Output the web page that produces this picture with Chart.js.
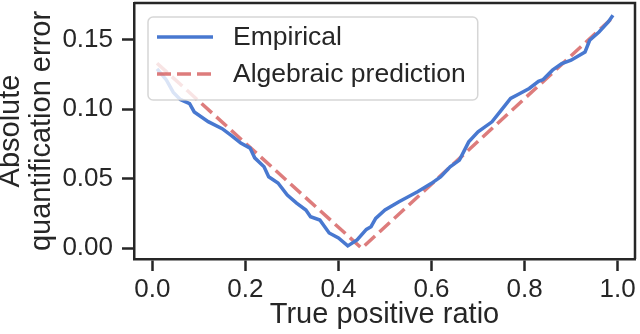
<!DOCTYPE html>
<html>
<head>
<meta charset="utf-8">
<script src="https://cdn.jsdelivr.net/npm/chart.js@4/dist/chart.umd.min.js"></script>
<style>
  html, body { margin: 0; padding: 0; background: #fff; }
  #wrap { width: 640px; height: 334px; }
</style>
</head>
<body>
<div id="wrap"><canvas id="chart"></canvas></div>
<script>
const EmpiricalX = [0.01, 0.03, 0.045, 0.06, 0.08, 0.09, 0.12, 0.15, 0.17, 0.19, 0.21, 0.22, 0.24, 0.25, 0.27, 0.29, 0.31, 0.33, 0.34, 0.36, 0.38, 0.40, 0.42, 0.44, 0.46, 0.47, 0.48, 0.50, 0.53, 0.55, 0.57, 0.60, 0.62, 0.64, 0.66, 0.68, 0.70, 0.73, 0.75, 0.77, 0.79, 0.81, 0.83, 0.84, 0.86, 0.88, 0.90, 0.93, 0.94, 0.96, 0.98, 0.99];
const EmpiricalY = [0.129, 0.121, 0.112, 0.107, 0.104, 0.098, 0.091, 0.086, 0.081, 0.0756, 0.072, 0.065, 0.0586, 0.0514, 0.0469, 0.0383, 0.0325, 0.0275, 0.0227, 0.0203, 0.011, 0.0074, 0.0017, 0.006, 0.0136, 0.0155, 0.0215, 0.0275, 0.0335, 0.037, 0.0406, 0.0467, 0.0514, 0.0586, 0.0634, 0.0765, 0.0837, 0.0909, 0.0993, 0.1077, 0.1113, 0.1149, 0.12, 0.1213, 0.128, 0.1328, 0.1352, 0.1411, 0.1495, 0.1555, 0.1627, 0.1675];

const PredictionX = [0.01, 0.45, 0.99];
const PredictionY = [0.133, 0.0, 0.166];

const XTicks = [0.0, 0.2, 0.4, 0.6, 0.8, 1.0];
const YTicks = [0.00, 0.05, 0.10, 0.15];

const SeriesLabels = ["Empirical", "Algebraic prediction"];

const InkColor = "#262626";
const FontFamily = "'Liberation Sans', Arial, sans-serif";

function toPoints(xs, ys) {
    return xs.map(function (x, i) { return { x: x, y: ys[i] }; });
}

// matplotlib style box round the plot plus a legend inside it
const boxAndLegend = {
    id: 'boxAndLegend',
    afterDatasetsDraw: function (chart) {
        const ctx = chart.ctx;
        const a = chart.chartArea;
        ctx.save();
        ctx.strokeStyle = InkColor;
        ctx.lineWidth = 2.5;
        ctx.beginPath();
        ctx.moveTo(a.left, a.top);
        ctx.lineTo(a.right, a.top);
        ctx.lineTo(a.right, a.bottom);
        ctx.stroke();

        ctx.font = "26.5px " + FontFamily;
        let textW = 0;
        chart.data.datasets.forEach(function (ds) {
            textW = Math.max(textW, ctx.measureText(ds.label).width);
        });
        const x0 = a.left + 14, y0 = a.top + 14;
        const w = 85 + textW + 12, h = 83;
        const r = 5;
        ctx.beginPath();
        ctx.moveTo(x0 + r, y0);
        ctx.arcTo(x0 + w, y0, x0 + w, y0 + h, r);
        ctx.arcTo(x0 + w, y0 + h, x0, y0 + h, r);
        ctx.arcTo(x0, y0 + h, x0, y0, r);
        ctx.arcTo(x0, y0, x0 + w, y0, r);
        ctx.closePath();
        ctx.fillStyle = "rgba(255,255,255,0.8)";
        ctx.fill();
        ctx.strokeStyle = "rgba(204,204,204,0.8)";
        ctx.lineWidth = 1.5;
        ctx.stroke();

        chart.data.datasets.forEach(function (ds, i) {
            const cy = y0 + 20 + i * 37;
            ctx.strokeStyle = ds.borderColor;
            ctx.lineWidth = ds.borderWidth;
            ctx.setLineDash(ds.borderDash || []);
            ctx.beginPath();
            ctx.moveTo(x0 + 9, cy);
            ctx.lineTo(x0 + 65, cy);
            ctx.stroke();
            ctx.setLineDash([]);
            ctx.fillStyle = InkColor;
            ctx.textBaseline = 'middle';
            ctx.fillText(ds.label, x0 + 85, cy + 1);
        });
        ctx.restore();
    }
};

new Chart(document.getElementById("chart"), {
    type: 'line',
    data: {
        datasets: [{
            label: SeriesLabels[0],
            data: toPoints(EmpiricalX, EmpiricalY),
            borderColor: "#4878d0",
            borderWidth: 3.5,
            pointRadius: 0,
            tension: 0
        }, {
            label: SeriesLabels[1],
            data: toPoints(PredictionX, PredictionY),
            borderColor: "rgba(214,95,95,0.82)",
            borderWidth: 3.5,
            borderDash: [14, 6],
            pointRadius: 0,
            tension: 0
        }]
    },
    options: {
        responsive: true,
        maintainAspectRatio: false,
        animation: false,
        layout: { padding: { top: 3, right: 5, bottom: 0, left: 0 } },
        plugins: {
            legend: { display: false },
            tooltip: { enabled: false }
        },
        scales: {
            x: {
                type: 'linear',
                min: -0.0395,
                max: 1.0374,
                afterBuildTicks: function (scale) {
                    scale.ticks = XTicks.map(function (v) { return { value: v }; });
                },
                afterFit: function (scale) {
                    scale.height = 75;
                    scale.paddingLeft = 0;
                    scale.paddingRight = 0;
                },
                ticks: {
                    color: InkColor,
                    font: { family: FontFamily, size: 26 },
                    padding: 3,
                    maxRotation: 0,
                    callback: function (v) { return Number(v).toFixed(1); }
                },
                grid: { drawOnChartArea: false, tickLength: 12, tickWidth: 2.5, tickColor: InkColor },
                border: { color: InkColor, width: 2.5 },
                title: {
                    display: true,
                    text: "True positive ratio",
                    color: InkColor,
                    font: { family: FontFamily, size: 29 },
                    padding: { top: 0, bottom: 2 }
                }
            },
            y: {
                min: -0.0077,
                max: 0.1763,
                afterBuildTicks: function (scale) {
                    scale.ticks = YTicks.map(function (v) { return { value: v }; });
                },
                afterFit: function (scale) {
                    scale.width = 134;
                    scale.paddingTop = 0;
                    scale.paddingBottom = 0;
                },
                ticks: {
                    color: InkColor,
                    font: { family: FontFamily, size: 26 },
                    padding: 9,
                    callback: function (v) { return Number(v).toFixed(2); }
                },
                grid: { drawOnChartArea: false, tickLength: 12, tickWidth: 2.5, tickColor: InkColor },
                border: { color: InkColor, width: 2.5 },
                title: {
                    display: true,
                    text: ["Absolute", "quantification error"],
                    color: InkColor,
                    font: { family: FontFamily, size: 29, lineHeight: 1.05 },
                    padding: { top: -4, bottom: 0 }
                }
            }
        }
    },
    plugins: [boxAndLegend]
});
</script>
</body>
</html>
